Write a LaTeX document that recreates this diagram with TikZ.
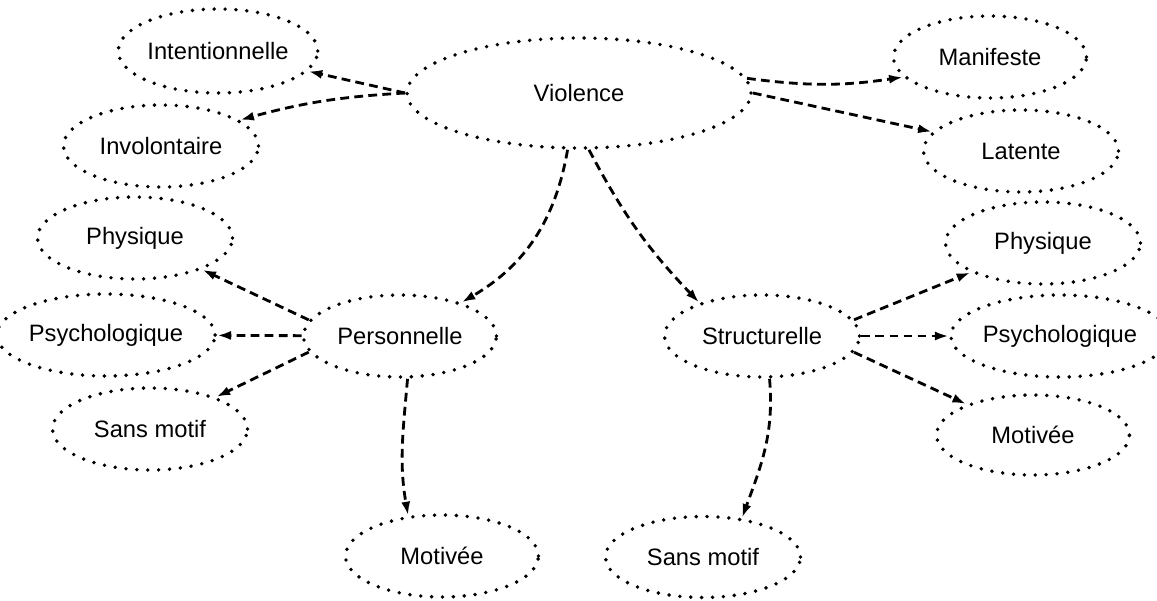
\documentclass[tikz,border=0pt]{standalone}
\usepackage{fontspec}
\setmainfont{Liberation Sans}
\usetikzlibrary{shapes.geometric,arrows.meta}
\tikzset{every node/.style={align=center}, >={Latex[length=2.8mm,width=1.8mm]}, font=\fontsize{13.5}{16}\selectfont}
\tikzset{oval/.style={ellipse, draw, line width=2.2pt, dash pattern=on 0pt off 6.2pt, line cap=round, inner sep=0pt, minimum width=3.9cm, minimum height=1.64cm},
    link/.style={->, line width=1.6pt, dash pattern=on 5pt off 3pt}}

\begin{document}
\begin{tikzpicture}[x=0.02cm, y=0.02cm]
            \useasboundingbox (0,0) rectangle (1157,-600);
            \node [oval, minimum width=6.88cm, minimum height=2.2cm] (viol) at (579,-93) {Violence};
            \node [oval, minimum height=1.68cm] (inten) at (218,-51) {Intentionnelle};
            \node [oval] (invol) at (161,-146) {Involontaire};
            \node [oval, minimum width=3.86cm] (manif) at (990,-57) {Manifeste};
            \node [oval] (laten) at (1021,-151) {Latente};
            \node [oval] (physP) at (135,-238) {Physique};
            \node [oval] (physS) at (1043,-243) {Physique};
            \node [oval] (psychP) at (106,-335) {Psychologique};
            \node [oval, minimum width=3.86cm] (pers) at (400,-336) {Personnelle};
            \node [oval] (struc) at (762,-336) {Structurelle};
            \node [oval, minimum width=3.58cm] (psychS) at (1060,-336) {Psychologique};
            \node [oval] (sansP) at (150,-429) {Sans motif};
            \node [oval, minimum width=3.86cm, minimum height=1.6cm] (motS) at (1033,-435) {Motivée};
            \node [oval, minimum width=3.86cm] (motP) at (442,-556) {Motivée};
            \node [oval, minimum height=1.62cm] (sansS) at (703,-557) {Sans motif};

            \path[link] (viol.west) edge (inten)
                (viol.west) edge [bend right=6] (invol)
                (viol.5) edge [bend right=8] (manif)
                (viol.east) edge (laten)
                (viol) edge [bend left=25] (pers)
                (viol.280) edge [bend right=8] (struc.152)
                (pers.170) edge (physP)
                (pers) edge (psychP)
                (pers.190) edge (sansP)
                (pers.-80) edge [out=-95, in=100] (motP.130)
                (struc.10) edge (physS)
                (struc) edge (psychS)
                (struc.-10) edge (motS)
                (struc.-80) edge [out=-85, in=70] (sansS.45);
        \end{tikzpicture}
\end{document}
